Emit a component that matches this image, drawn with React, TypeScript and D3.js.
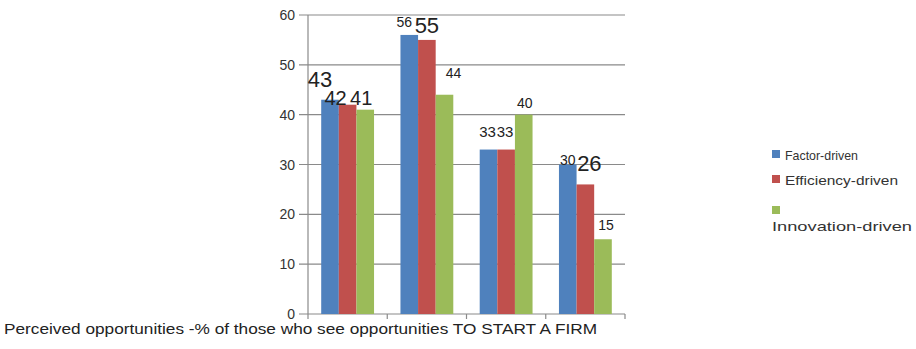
import React from "react";
import * as d3 from "d3";

const categories = ["Group 1", "Group 2", "Group 3", "Group 4"];
const seriesNames = ["Factor-driven", "Efficiency-driven", "Innovation-driven"];
const factorDriven = [43, 56, 33, 30];
const efficiencyDriven = [42, 55, 33, 26];
const innovationDriven = [41, 44, 40, 15];
const yTicks = [0, 10, 20, 30, 40, 50, 60];
const axisTitle = "Perceived opportunities -% of those who see opportunities TO START A FIRM";

const seriesValues = [factorDriven, efficiencyDriven, innovationDriven];
const colors = ["#4F81BD", "#C0504D", "#9BBB59"];

// label styling: [fontSize, dx from bar center, rise of baseline above bar top]
const labelStyles: number[][][] = [
  [[22, -10, 13], [14, -5, 8], [15, -1, 13], [14, 0, 0]],
  [[20, -12, 0], [22, 0, 7], [15, -1, 13], [22, 4, 13]],
  [[20, -4, 5], [14, 9, 17], [14, 1, 7], [14, 3, 9]],
];

export default function App() {
  const W = 916, H = 349;
  const left = 308, right = 625, top = 15, bottom = 314;
  const y = d3.scaleLinear().domain([0, 60]).range([bottom, top]);
  const x0 = d3.scaleBand().domain(categories).range([left, right]).paddingInner(1 / 3).paddingOuter(1 / 6);
  const x1 = d3.scaleBand().domain(seriesNames).range([0, x0.bandwidth()]);
  const step = x0.step();
  const font = "'Liberation Sans', Arial, sans-serif";
  const grid = "#8a8a8a";

  return (
    <svg width={W} height={H} style={{ position: "absolute", left: 0, top: 0 }} fontFamily={font}>
      <rect width={W} height={H} fill="#fff" />
      {yTicks.map((t) => (
        <g key={t}>
          <line x1={left - 9} x2={right} y1={y(t)} y2={y(t)} stroke={grid} strokeWidth={1.2} />
          <text x={295} y={y(t)} dy="0.36em" textAnchor="end" fontSize={14} fill="#333">{t}</text>
        </g>
      ))}
      <line x1={left} x2={left} y1={top} y2={bottom + 5} stroke={grid} strokeWidth={1.2} />
      {categories.map((c, i) => (
        <line key={c} x1={left + step * (i + 1)} x2={left + step * (i + 1)} y1={bottom} y2={bottom + 5} stroke={grid} strokeWidth={1.2} />
      ))}
      {categories.map((c, j) => (
        <g key={c}>
          {seriesNames.map((s, i) => {
            const v = seriesValues[i][j];
            const bx = (x0(c) as number) + (x1(s) as number);
            return (
              <rect key={s} x={bx} y={y(v)} width={x1.bandwidth()} height={bottom - y(v)} fill={colors[i]} />
            );
          })}
        </g>
      ))}
      {categories.map((c, j) => (
        <g key={c}>
          {seriesNames.map((s, i) => {
            const v = seriesValues[i][j];
            const [fs, dx, rise] = labelStyles[i][j];
            const cx = (x0(c) as number) + (x1(s) as number) + x1.bandwidth() / 2;
            return (
              <text key={s} x={cx + dx} y={y(v) - rise} textAnchor="middle" fontSize={fs} fill="#222">{v}</text>
            );
          })}
        </g>
      ))}
      <text x={4} y={334} fontSize={14} fill="#222" textLength={593} lengthAdjust="spacingAndGlyphs">{axisTitle}</text>
      {/* legend */}
      <rect x={772} y={150} width={8} height={8} fill={colors[0]} />
      <text x={785} y={160} fontSize={13} fill="#333" textLength={73} lengthAdjust="spacingAndGlyphs">{seriesNames[0]}</text>
      <rect x={772} y={175} width={8} height={8} fill={colors[1]} />
      <text x={785} y={185} fontSize={13} fill="#333" textLength={113} lengthAdjust="spacingAndGlyphs">{seriesNames[1]}</text>
      <rect x={772} y={206} width={8} height={8} fill={colors[2]} />
      <text x={772} y={231} fontSize={13} fill="#333" textLength={140} lengthAdjust="spacingAndGlyphs">{seriesNames[2]}</text>
    </svg>
  );
}
